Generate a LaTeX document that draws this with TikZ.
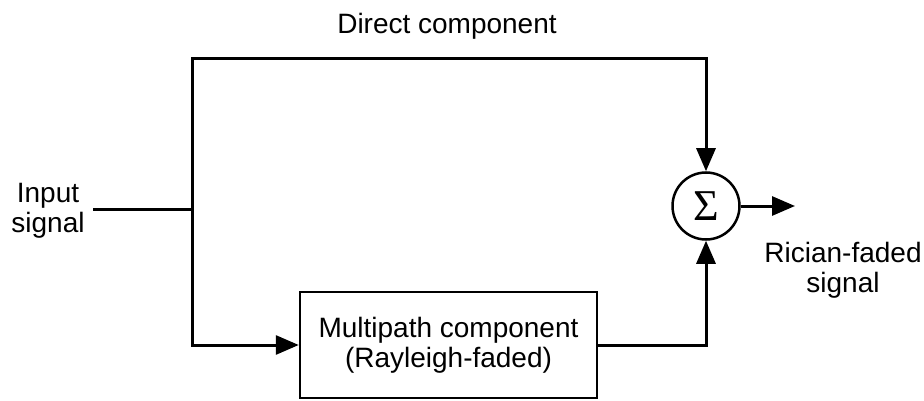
\documentclass[tikz,border=0pt]{standalone}
\usepackage{fontspec}
\setmainfont{Liberation Sans}
\newfontfamily\sigmafont{Liberation Serif}
\usetikzlibrary{arrows.meta}
\begin{document}
\begin{tikzpicture}[x=1pt,y=-1pt,
  wire/.style={line width=3pt},
  arr/.style={wire,-{Triangle[length=23pt,width=19pt]}},
  lbl/.style={font=\fontsize{28}{30}\selectfont, align=center, inner sep=0pt},
  block/.style={draw, line width=2.5pt, minimum width=297pt, minimum height=106pt, align=center, inner sep=0pt, font=\fontsize{28}{30}\selectfont},
  sumnode/.style={draw, circle, line width=2.5pt, minimum size=67pt, inner sep=0pt}]
\useasboundingbox (0,0) rectangle (924,401);
\node[lbl] (direct) at (447,26) {Direct component};
\node[lbl] (inlbl) at (48,211) {Input\\signal};
\node[lbl] (outlbl) at (843,270) {Rician-faded\\signal};
\node[block] (mp) at (448.5,345) {Multipath component\\(Rayleigh-faded)};
\node[sumnode] (sum) at (706,206) {\sigmafont\fontsize{44}{44}\selectfont Σ};
\coordinate (in) at (93,209);
\coordinate (split) at (192,209);
\coordinate (top) at (192,59);
\coordinate (out) at (795,206);
\draw[wire] (in) -- (split);
\draw[arr] (split) -- (top) -| (sum.north);
\draw[arr] (split) |- (mp.west);
\draw[arr] (mp.east) -| (sum.south);
\draw[arr] (sum.east) -- (out);
\end{tikzpicture}
\end{document}
